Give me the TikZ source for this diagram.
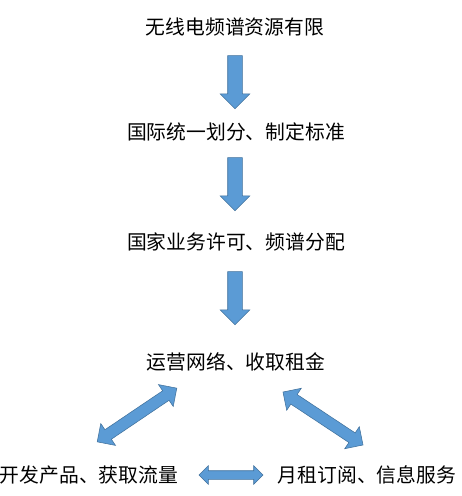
\documentclass[tikz,border=0pt]{standalone}
\usepackage{fontspec}
\newfontfamily\cjk{Noto Sans CJK SC}
\usetikzlibrary{shapes.arrows,positioning}
\definecolor{arrowfill}{RGB}{91,155,213}
\definecolor{arrowline}{RGB}{65,113,156}
\tikzset{
  steptext/.style={font=\cjk\fontsize{14.85}{17}\selectfont, inner sep=0pt, text=black},
  downarrow/.style={single arrow, draw=arrowline, fill=arrowfill, inner xsep=0pt, inner ysep=5.25pt,
    minimum height=39.75pt, single arrow head extend=5.6pt, rotate=-90},
  twoarrow/.style={double arrow, draw=arrowline, fill=arrowfill, inner xsep=0pt, inner ysep=4.1pt,
    minimum height=72pt, double arrow head extend=5.6pt},
  flatarrow/.style={double arrow, draw=arrowline, fill=arrowfill, inner xsep=0pt, inner ysep=3pt,
    minimum height=48pt, double arrow head extend=3.75pt},
}

\begin{document}
\begin{tikzpicture}[x=0.75pt, y=-0.75pt]
  \useasboundingbox (0,0) rectangle (461,496);

  % chain of steps
  \node[steptext] (spectrum) at (235,27) {无线电频谱资源有限};
  \node[steptext] (itu) at (236,132) {国际统一划分、制定标准};
  \node[steptext] (licence) at (236,242) {国家业务许可、频谱分配};
  \node[steptext] (operate) at (236,362) {运营网络、收取租金};
  \node[steptext] (products) at (89,475) {开发产品、获取流量};
  \node[steptext] (subscribe) at (367,475) {月租订阅、信息服务};

  % block arrows
  \node[downarrow] (a1) at (235,78.5) {};
  \node[downarrow] (a2) at (235,180.5) {};
  \node[downarrow] (a3) at (235,294.5) {};
  \node[twoarrow, rotate=34] (a4) at (137,415) {};
  \node[twoarrow, rotate=-33.5] (a5) at (323,418.5) {};
  \node[flatarrow] (a6) at (231,475) {};
\end{tikzpicture}
\end{document}
